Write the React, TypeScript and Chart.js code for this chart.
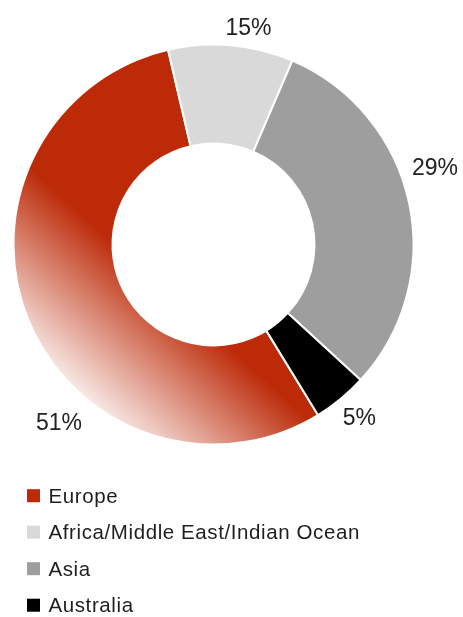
import React, { useEffect, useRef } from 'react';
import { Chart, ArcElement, DoughnutController } from 'chart.js';

Chart.register(ArcElement, DoughnutController);

// ---- data ----
const categories = ['Europe', 'Africa/Middle East/Indian Ocean', 'Asia', 'Australia'];
const shares = [55.1, 10.1, 30.4, 4.4]; // arc sizes as drawn
const shareLabels = ['51%', '15%', '29%', '5%'];
const colors = ['#BC2A08', '#D9D9D9', '#9D9E9D', '#000000'];

// label placement (degrees clockwise from top, distance as multiple of outer radius)
const labelAngles = [221.1, 9.1, 70.6, 139.7];
const labelDist = [1.175, 1.104, 1.174, 1.128];

const FONT = '"Liberation Sans", Arial, Helvetica, sans-serif';

const europeFill = (c: any) => {
  const chart = c.chart;
  const area = chart.chartArea;
  if (!area) return colors[0];
  const cx = (area.left + area.right) / 2;
  const cy = (area.top + area.bottom) / 2;
  const r = Math.min(area.width, area.height) / 2;
  const dx = -0.669, dy = 0.743;
  const g = chart.ctx.createLinearGradient(
    cx + dx * 0.325 * r, cy + dy * 0.325 * r,
    cx + dx * 1.07 * r, cy + dy * 1.07 * r
  );
  g.addColorStop(0, colors[0]);
  g.addColorStop(1, '#ffffff');
  return g;
};

const outerLabels = {
  id: 'outerLabels',
  afterDatasetsDraw(chart: any) {
    const meta = chart.getDatasetMeta(0);
    const arc = meta.data[0];
    if (!arc) return;
    const { x, y, outerRadius } = arc.getProps(['x', 'y', 'outerRadius'], true);
    const ctx = chart.ctx;
    ctx.save();
    ctx.font = `23px ${FONT}`;
    ctx.fillStyle = '#222222';
    ctx.textAlign = 'center';
    ctx.textBaseline = 'alphabetic';
    shareLabels.forEach((lab, i) => {
      const t = (labelAngles[i] * Math.PI) / 180;
      const d = labelDist[i] * outerRadius;
      ctx.fillText(lab, x + d * Math.sin(t), y - d * Math.cos(t) + 8.3);
    });
    ctx.restore();
  },
};

const listLegend = {
  id: 'listLegend',
  afterDraw(chart: any) {
    const ctx = chart.ctx;
    const area = chart.chartArea;
    ctx.save();
    ctx.font = `20.5px ${FONT}`;
    try { (ctx as any).letterSpacing = '0.6px'; } catch (e) { /* ignore */ }
    ctx.textAlign = 'left';
    ctx.textBaseline = 'alphabetic';
    categories.forEach((name, i) => {
      const base = area.bottom + 57.2 + i * 36.5;
      ctx.fillStyle = colors[i];
      ctx.fillRect(27, base - 13.5, 13, 13);
      ctx.fillStyle = '#1e1e1e';
      ctx.fillText(name, 48.5, base);
    });
    ctx.restore();
  },
};

export default function App() {
  const ref = useRef<HTMLCanvasElement | null>(null);
  useEffect(() => {
    if (!ref.current) return;
    const chart = new Chart(ref.current, {
      type: 'doughnut',
      data: {
        labels: categories,
        datasets: [
          {
            data: shares,
            backgroundColor: (c: any) => (c.dataIndex === 0 ? europeFill(c) : colors[c.dataIndex]),
            borderColor: '#ffffff',
            borderWidth: 2,
            hoverBorderWidth: 2,
            hoverOffset: 0,
            offset: 0,
          },
        ],
      },
      options: {
        responsive: false,
        animation: false,
        rotation: 148.5,
        cutout: '50.5%',
        events: [],
        layout: { padding: { left: 12.5, right: 48.5, top: 43.5, bottom: 171.5 } },
        plugins: { legend: { display: false }, tooltip: { enabled: false } },
      },
      plugins: [outerLabels, listLegend],
    } as any);
    return () => chart.destroy();
  }, []);
  return (
    <div style={{ position: 'absolute', left: 0, top: 0, width: 463, height: 617, background: '#fff' }}>
      <canvas ref={ref} width={463} height={617} style={{ display: 'block', width: 463, height: 617 }} />
    </div>
  );
}
